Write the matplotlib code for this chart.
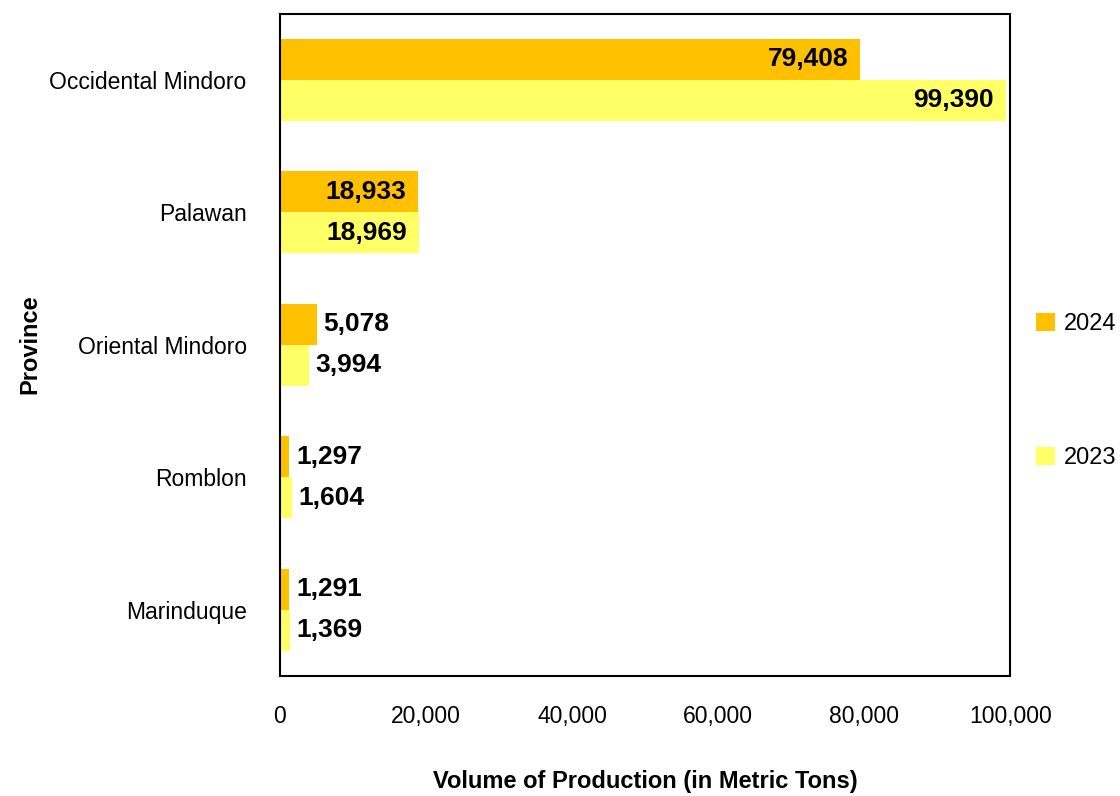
import numpy as np
import matplotlib.pyplot as plt
from matplotlib.ticker import FuncFormatter

provinces = ['Occidental Mindoro', 'Palawan', 'Oriental Mindoro', 'Romblon', 'Marinduque']
vol_2024 = [79408, 18933, 5078, 1297, 1291]
vol_2023 = [99390, 18969, 3994, 1604, 1369]

plt.rcParams['font.family'] = ['Liberation Sans', 'DejaVu Sans']

fig = plt.figure(figsize=(11.2, 7.96), dpi=100)
ax = fig.add_axes([0.25, 0.151, 0.652, 0.832])

y = np.arange(len(provinces))
h = 0.31
b24 = ax.barh(y - h / 2, vol_2024, height=h, color='#FFC000', label='2024')
b23 = ax.barh(y + h / 2, vol_2023, height=h, color='#FFFF66', label='2023')

# data labels: inside end for long bars, outside end for short ones
for bars, vals in [(b24, vol_2024), (b23, vol_2023)]:
    for bar, v in zip(bars, vals):
        yc = bar.get_y() + bar.get_height() / 2
        if v > 15000:
            ax.text(v - 1600, yc, f'{v:,}', ha='right', va='center',
                    fontsize=19, fontweight='bold')
        else:
            ax.text(v + 900, yc, f'{v:,}', ha='left', va='center',
                    fontsize=19, fontweight='bold')

ax.set_xlim(0, 100000)
ax.set_ylim(len(provinces) - 0.5, -0.5)
ax.set_yticks(y)
ax.set_yticklabels(provinces)
ax.xaxis.set_major_formatter(FuncFormatter(lambda v, p: f'{int(v):,}'))
ax.tick_params(axis='both', length=0, labelsize=16.5)
ax.tick_params(axis='x', pad=21)
ax.tick_params(axis='y', pad=24)
for s in ax.spines.values():
    s.set_linewidth(1.5)
    s.set_color('black')

ax.set_xlabel('Volume of Production (in Metric Tons)', fontsize=17, fontweight='bold', labelpad=30)
ax.set_ylabel('Province', fontsize=17, fontweight='bold', labelpad=6)

ax.legend(loc='center left', bbox_to_anchor=(1.006, 0.43), frameon=False, fontsize=17,
          handlelength=0.8, handleheight=0.8, labelspacing=4.75, handletextpad=0.4)

fig.savefig('out.png', dpi=100)
